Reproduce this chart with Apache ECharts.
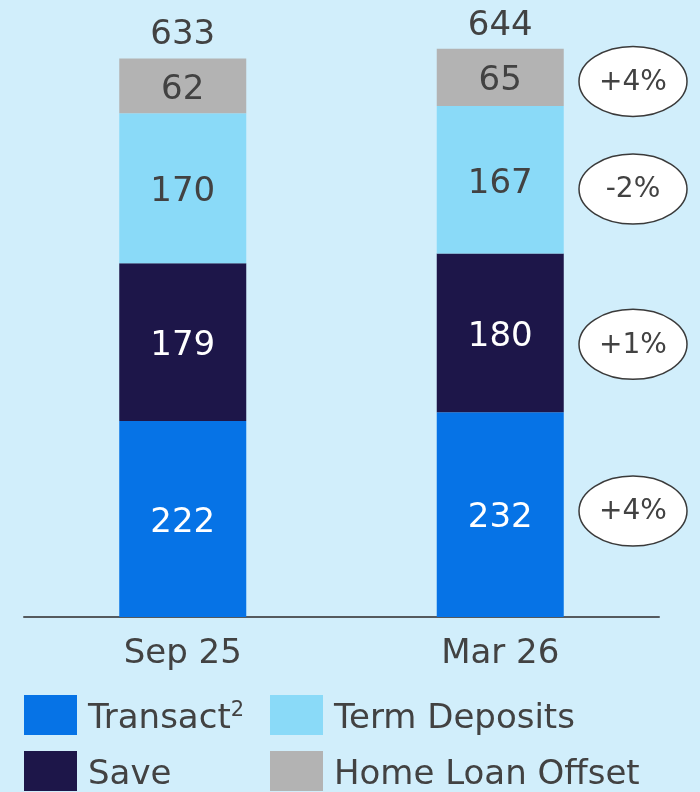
<!DOCTYPE html>
<html>
<head>
<meta charset="utf-8">
<script src="https://cdn.jsdelivr.net/npm/echarts@6/dist/echarts.min.js"></script>
<style>
  html, body { margin: 0; padding: 0; background: #d1eefb; }
  #chart { width: 700px; height: 792px; }
</style>
</head>
<body>
<div id="chart"></div>
<script>
// data
const categories = ['Sep 25', 'Mar 26'];
const transact = [222, 232];
const save = [179, 180];
const termDeposits = [170, 167];
const homeLoanOffset = [62, 65];
const totals = [633, 644];
// change badges (Mar 26 vs Sep 25), bottom to top, placed at these axis values
const changeLabels = ['+4%', '+1%', '-2%', '+4%'];
const changeAt = [120, 309, 485, 607];

const textColor = '#424242';
const fontFamily = 'DejaVu Sans';

const chart = echarts.init(document.getElementById('chart'));

const barLabel = (color) => ({
    show: true,
    position: 'inside',
    offset: [0, 4],
    color: color,
    fontSize: 34,
    fontFamily: fontFamily
});

const legendText = {
    color: textColor,
    fontSize: 34,
    fontFamily: fontFamily,
    lineHeight: 32,
    padding: [8, 0, 0, 6],
    rich: {
        sup: { fontSize: 21, fontFamily: fontFamily, color: textColor, padding: [0, 0, 16, 0] }
    }
};

const option = {
    backgroundColor: '#d1eefb',
    animation: false,
    grid: { left: 24, right: 41, top: 17, bottom: 175 },
    xAxis: {
        type: 'category',
        data: categories,
        axisLine: { lineStyle: { color: '#555a5e', width: 2 } },
        axisTick: { show: false },
        axisLabel: { color: textColor, fontSize: 34, fontFamily: fontFamily, margin: 20 }
    },
    yAxis: {
        type: 'value',
        min: 0,
        max: 680,
        show: false,
        splitLine: { show: false }
    },
    legend: [
        {
            left: 24, top: 695, orient: 'vertical', padding: 0,
            itemWidth: 53, itemHeight: 40, itemGap: 15, icon: 'rect',
            data: ['Transact', 'Save'],
            formatter: (name) => name === 'Transact' ? 'Transact{sup|2}' : name,
            textStyle: legendText
        },
        {
            left: 270, top: 695, orient: 'vertical', padding: 0,
            itemWidth: 53, itemHeight: 40, itemGap: 15, icon: 'rect',
            data: ['Term Deposits', 'Home Loan Offset'],
            textStyle: legendText
        }
    ],
    series: [
        { name: 'Transact', type: 'bar', stack: 'total', barWidth: 127, data: transact,
          itemStyle: { color: '#0673e6' }, label: barLabel('#ffffff') },
        { name: 'Save', type: 'bar', stack: 'total', data: save,
          itemStyle: { color: '#1d1649' }, label: barLabel('#ffffff') },
        { name: 'Term Deposits', type: 'bar', stack: 'total', data: termDeposits,
          itemStyle: { color: '#8adaf8' }, label: barLabel(textColor) },
        { name: 'Home Loan Offset', type: 'bar', stack: 'total', data: homeLoanOffset,
          itemStyle: { color: '#b3b3b3' }, label: barLabel(textColor) },
        // zero-height bar on top of the stack, carries the total label
        { name: 'Total', type: 'bar', stack: 'total', data: [0, 0],
          itemStyle: { color: 'transparent' },
          label: {
              show: true, position: 'top', distance: 6,
              formatter: (p) => totals[p.dataIndex],
              color: textColor, fontSize: 34, fontFamily: fontFamily
          } }
    ]
};
chart.setOption(option);

// change badges to the right of the Mar 26 bar
const badgeX = 633;
const badges = changeLabels.map((txt, i) => {
    const y = chart.convertToPixel({ yAxisIndex: 0 }, changeAt[i]);
    return {
        type: 'group',
        x: badgeX,
        y: y,
        children: [
            { type: 'ellipse', shape: { cx: 0, cy: 0, rx: 54, ry: 35 },
              style: { fill: '#ffffff', stroke: '#3a3a3a', lineWidth: 1.5 } },
            { type: 'text', x: 0, y: 1,
              style: { text: txt, fill: textColor, fontSize: 28, fontFamily: fontFamily,
                       align: 'center', verticalAlign: 'middle' } }
        ]
    };
});
chart.setOption({ graphic: badges });
</script>
</body>
</html>
